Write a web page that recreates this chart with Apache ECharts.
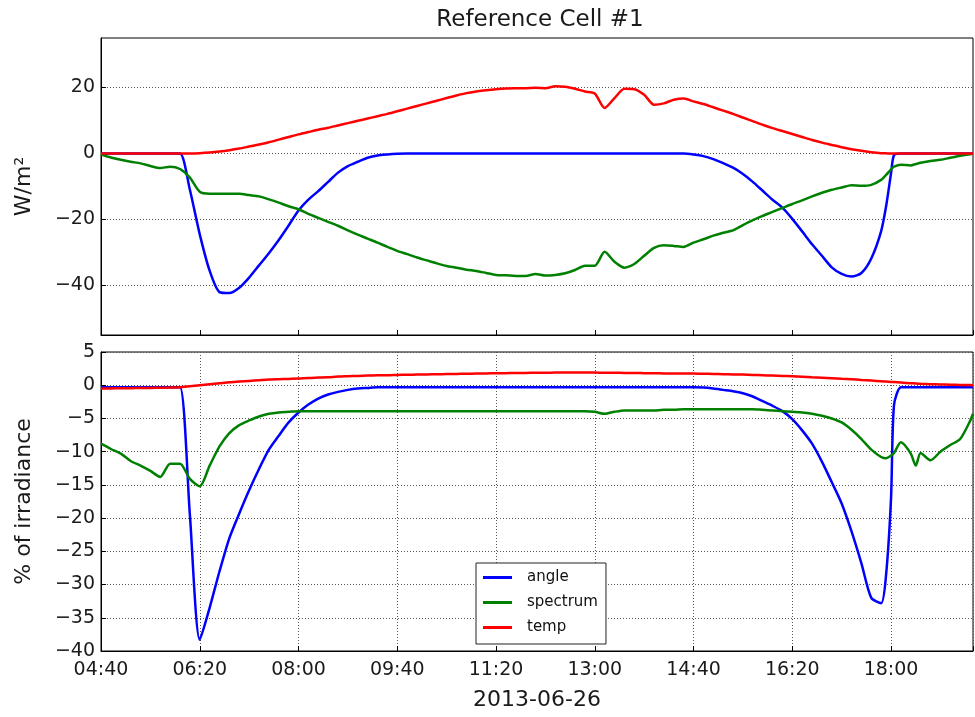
<!DOCTYPE html>
<html>
<head>
<meta charset="utf-8">
<title>Reference Cell #1</title>
<script src="https://cdn.jsdelivr.net/npm/echarts@6/dist/echarts.min.js"></script>
<style>
  html, body { margin: 0; padding: 0; background: #fff; }
  #main { width: 975px; height: 717px; }
</style>
</head>
<body>
<div id="main"></div>
<script>
// minutes since midnight, 2013-06-26
const times = [
  280, 290, 300, 310, 320, 330, 340, 350, 360, 370,
  380, 390, 400, 410, 420, 430, 440, 450, 460, 470,
  480, 490, 500, 510, 520, 530, 540, 550, 560, 570,
  580, 590, 600, 610, 620, 630, 640, 650, 660, 670,
  680, 690, 700, 710, 720, 730, 740, 750, 760, 770,
  780, 790, 800, 810, 820, 830, 840, 850, 860, 870,
  880, 890, 900, 910, 920, 930, 940, 950, 960, 970,
  980, 990, 1000, 1010, 1020, 1030, 1040, 1050, 1060, 1070,
  1075, 1080, 1083, 1090, 1100, 1105, 1110, 1120, 1130, 1140,
  1150, 1160, 1163,
];

// top panel, W/m²
const angleW = [
  0, 0, 0, 0, 0, 0, 0, 0, 0, -11,
  -24.5, -35.5, -42.0, -42.3, -40.7, -37.6, -33.9, -30.2, -26.2, -21.8,
  -17.3, -14.0, -11.4, -8.6, -5.8, -3.8, -2.5, -1.3, -0.6, -0.3,
  -0.1, 0, 0, 0, 0, 0, 0, 0, 0, 0,
  0, 0, 0, 0, 0, 0, 0, 0, 0, 0,
  0, 0, 0, 0, 0, 0, 0, 0, 0, 0,
  -0.3, -0.8, -1.7, -2.9, -4.3, -6.2, -8.6, -11.3, -14.0, -16.4,
  -19.8, -23.6, -27.5, -31.0, -34.5, -36.5, -37.3, -36.2, -31.8, -23.5,
  -16, -6, -0.5, 0, 0, 0, 0, 0, 0, 0,
  0, 0, 0,
];
const spectrumW = [
  -0.3, -1.2, -1.9, -2.5, -3.0, -3.8, -4.4, -4.0, -4.7, -7.3,
  -11.6, -12.2, -12.2, -12.2, -12.2, -12.6, -13.0, -13.9, -14.9, -16.0,
  -16.9, -18.3, -19.5, -20.7, -21.9, -23.3, -24.6, -25.8, -27.0, -28.3,
  -29.5, -30.5, -31.5, -32.4, -33.3, -34.1, -34.6, -35.2, -35.6, -36.2,
  -36.8, -36.9, -37.1, -37.1, -36.5, -37.0, -36.8, -36.3, -35.3, -34.0,
  -34.0, -29.8, -32.8, -34.6, -33.5, -31.0, -28.6, -27.8, -28.0, -28.3,
  -27.0, -26.0, -24.9, -24.0, -23.3, -21.7, -20.2, -18.9, -17.7, -16.5,
  -15.3, -14.2, -13.0, -11.9, -11.0, -10.3, -9.6, -9.8, -9.5, -8.0,
  -6.5, -4.8, -4.0, -3.4, -3.6, -3.2, -2.8, -2.3, -1.9, -1.3,
  -0.7, -0.2, -0.1,
];
const tempW = [
  0, 0, 0, 0, 0, 0, 0, 0, 0, 0,
  0.1, 0.3, 0.6, 1.0, 1.5, 2.1, 2.7, 3.4, 4.2, 5.0,
  5.8, 6.5, 7.2, 7.8, 8.5, 9.2, 9.9, 10.6, 11.3, 12.0,
  12.8, 13.6, 14.4, 15.2, 16.0, 16.8, 17.6, 18.3, 18.8, 19.2,
  19.5, 19.7, 19.8, 19.8, 19.9, 19.8, 20.4, 20.2, 19.6, 18.8,
  18.2, 13.8, 16.8, 19.6, 19.5, 17.8, 14.8, 15.2, 16.3, 16.7,
  15.8, 15.0, 14.0, 13.0, 12.0, 10.9, 9.8, 8.7, 7.7, 6.8,
  5.9, 5.0, 4.1, 3.3, 2.6, 1.9, 1.3, 0.8, 0.4, 0.1,
  0.05, 0, 0, 0, 0, 0, 0, 0, 0, 0,
  0, 0, 0,
];

// bottom panel, % of irradiance
const angleP = [
  -0.3, -0.3, -0.3, -0.3, -0.3, -0.3, -0.3, -0.3, -0.3, -19.5,
  -38.3, -33.5, -28.0, -23.0, -19.3, -15.8, -12.6, -9.7, -7.6, -5.6,
  -4.1, -2.9, -2.0, -1.4, -1.0, -0.7, -0.5, -0.4, -0.3, -0.3,
  -0.3, -0.3, -0.3, -0.3, -0.3, -0.3, -0.3, -0.3, -0.3, -0.3,
  -0.3, -0.3, -0.3, -0.3, -0.3, -0.3, -0.3, -0.3, -0.3, -0.3,
  -0.3, -0.3, -0.3, -0.3, -0.3, -0.3, -0.3, -0.3, -0.3, -0.3,
  -0.3, -0.35, -0.5, -0.7, -0.9, -1.2, -1.7, -2.4, -3.1, -3.9,
  -5.1, -6.8, -8.8, -11.5, -14.6, -17.8, -22.0, -26.8, -32.0, -32.8,
  -28.5, -17, -3, -0.3, -0.3, -0.3, -0.3, -0.3, -0.3, -0.3,
  -0.3, -0.3, -0.3,
];
const spectrumP = [
  -8.8, -9.6, -10.3, -11.4, -12.1, -12.9, -13.8, -11.8, -11.8, -14.1,
  -15.2, -12.1, -9.2, -7.2, -6.0, -5.3, -4.7, -4.3, -4.1, -4.0,
  -3.9, -3.9, -3.9, -3.9, -3.9, -3.9, -3.9, -3.9, -3.9, -3.9,
  -3.9, -3.9, -3.9, -3.9, -3.9, -3.9, -3.9, -3.9, -3.9, -3.9,
  -3.9, -3.9, -3.9, -3.9, -3.9, -3.9, -3.9, -3.9, -3.9, -3.9,
  -4.0, -4.3, -4.0, -3.8, -3.8, -3.8, -3.8, -3.7, -3.7, -3.6,
  -3.6, -3.6, -3.6, -3.6, -3.6, -3.6, -3.6, -3.7, -3.8, -3.9,
  -4.0, -4.1, -4.3, -4.6, -5.0, -5.6, -6.7, -8.1, -9.7, -10.8,
  -11.0, -10.6, -10.2, -8.6, -10.3, -12.1, -10.2, -11.3, -10.0, -9.0,
  -8.1, -5.4, -4.3,
];
const tempP = [
  -0.5, -0.48, -0.46, -0.44, -0.42, -0.4, -0.38, -0.35, -0.3, -0.15,
  0.0, 0.15, 0.3, 0.45, 0.55, 0.65, 0.75, 0.85, 0.9, 0.95,
  1.0, 1.1, 1.15, 1.2, 1.3, 1.35, 1.4, 1.45, 1.5, 1.5,
  1.55, 1.58, 1.6, 1.62, 1.65, 1.68, 1.7, 1.72, 1.75, 1.78,
  1.8, 1.82, 1.85, 1.85, 1.88, 1.88, 1.9, 1.9, 1.9, 1.9,
  1.9, 1.88, 1.88, 1.85, 1.85, 1.82, 1.8, 1.78, 1.77, 1.76,
  1.75, 1.73, 1.7, 1.67, 1.63, 1.6, 1.55, 1.5, 1.45, 1.4,
  1.35, 1.28, 1.2, 1.13, 1.06, 0.98, 0.9, 0.8, 0.7, 0.6,
  0.55, 0.5, 0.47, 0.4, 0.3, 0.26, 0.22, 0.15, 0.11, 0.08,
  0.05, 0.02, 0,
];

const seriesNames = ["angle", "spectrum", "temp"];
const seriesColors = ["#0000ff", "#008000", "#ff0000"];
const topTicks = [-40, -20, 0, 20];

const FONT = "DejaVu Sans";
const T0 = 280; // 04:40
const T1 = 1163;

const pad = n => String(n).padStart(2, "0");
const fmtTime = v => pad(Math.floor(v / 60)) + ":" + pad(Math.round(v % 60));
const fmtNum = v => String(v).replace("-", "\u2212");
const pairs = arr => times.map((t, i) => [t, arr[i]]);

const gridLine = { show: true, lineStyle: { color: "#555", width: 1, type: [1, 2] } };
const tickLabel = { fontSize: 19, color: "#1a1a1a", fontFamily: FONT };
const axisName = { fontSize: 22, color: "#1a1a1a", fontFamily: FONT };

const chart = echarts.init(document.getElementById("main"));

chart.setOption({
  animation: false,
  backgroundColor: "#fff",
  title: {
    text: "Reference Cell #1",
    left: 540,
    top: 9,
    textAlign: "center",
    padding: 0,
    textStyle: { fontSize: 23, fontWeight: "normal", color: "#1a1a1a", fontFamily: FONT },
  },
  legend: {
    orient: "vertical",
    left: 476,
    top: 563,
    padding: [7, 8, 9, 7],
    itemWidth: 29,
    itemHeight: 3,
    itemGap: 10,
    icon: "rect",
    backgroundColor: "#fff",
    borderColor: "#222",
    borderWidth: 1,
    textStyle: { fontSize: 15, color: "#111", fontFamily: FONT, padding: [0, 0, 0, 10] },
    data: seriesNames,
  },
  grid: [
    { left: 101, right: 2, top: 38, height: 297, show: true, borderColor: "#000", borderWidth: 1, outerBoundsMode: "none" },
    { left: 101, right: 2, top: 352, height: 299, show: true, borderColor: "#000", borderWidth: 1, outerBoundsMode: "none" },
  ],
  xAxis: [
    {
      type: "value",
      gridIndex: 0,
      min: T0,
      max: T1,
      interval: 100,
      axisLine: { onZero: false, lineStyle: { color: "#000" } },
      axisTick: { inside: true, length: 5, lineStyle: { color: "#000" } },
      axisLabel: { show: false },
      splitLine: { show: false },
    },
    {
      type: "value",
      gridIndex: 1,
      min: T0,
      max: T1,
      interval: 100,
      name: "2013-06-26",
      nameLocation: "middle",
      nameGap: 38,
      nameTextStyle: axisName,
      axisLine: { onZero: false, lineStyle: { color: "#000" } },
      axisTick: { inside: true, length: 5, lineStyle: { color: "#000" } },
      axisLabel: {
        ...tickLabel,
        margin: 10,
        formatter: v => ((v - T0) % 100 === 0 ? fmtTime(v) : ""),
      },
      splitLine: gridLine,
    },
  ],
  yAxis: [
    {
      type: "value",
      gridIndex: 0,
      min: -55,
      max: 35,
      name: "W/m\u00b2",
      nameLocation: "middle",
      nameGap: 66,
      nameTextStyle: axisName,
      axisLine: { show: true, onZero: false, lineStyle: { color: "#000" } },
      axisTick: { show: true, inside: true, length: 5, customValues: topTicks, lineStyle: { color: "#000" } },
      axisLabel: { ...tickLabel, margin: 6, customValues: topTicks, formatter: fmtNum },
      splitLine: gridLine,
    },
    {
      type: "value",
      gridIndex: 1,
      min: -40,
      max: 5,
      interval: 5,
      name: "% of irradiance",
      nameLocation: "middle",
      nameGap: 66,
      nameTextStyle: axisName,
      axisLine: { show: true, onZero: false, lineStyle: { color: "#000" } },
      axisTick: { show: true, inside: true, length: 5, lineStyle: { color: "#000" } },
      axisLabel: { ...tickLabel, margin: 6, formatter: fmtNum },
      splitLine: gridLine,
    },
  ],
  series: [
    [angleW, 0],
    [spectrumW, 0],
    [tempW, 0],
    [angleP, 1],
    [spectrumP, 1],
    [tempP, 1],
  ].map(([arr, g], i) => ({
    name: seriesNames[i % 3],
    type: "line",
    xAxisIndex: g,
    yAxisIndex: g,
    showSymbol: false,
    symbol: "none",
    smooth: 0.25,
    color: seriesColors[i % 3],
    lineStyle: { width: 2.5, color: seriesColors[i % 3] },
    data: pairs(arr),
  })),
});
</script>
</body>
</html>
